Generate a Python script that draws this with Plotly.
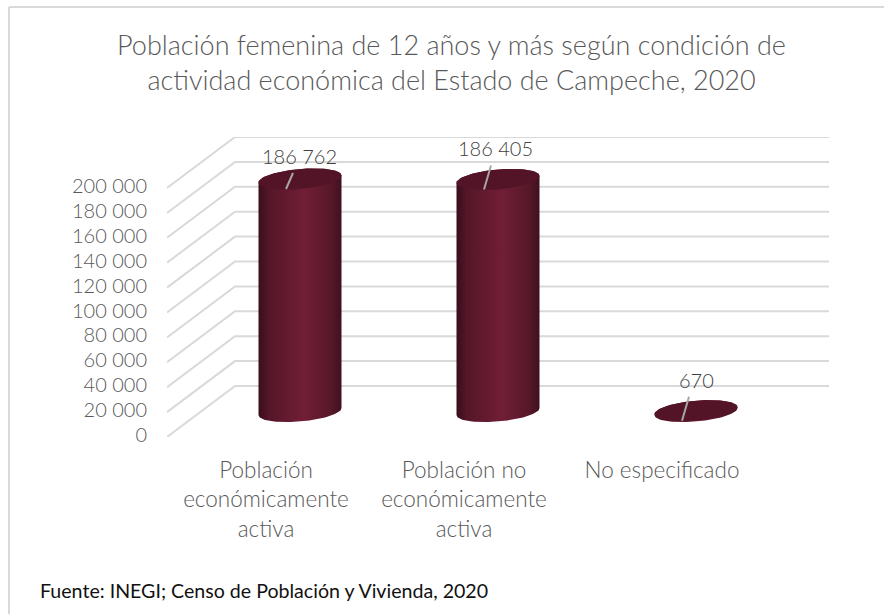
import numpy as np
import plotly.graph_objects as go

categories = ["Población<br>económicamente<br>activa", "Población no<br>económicamente<br>activa", "No especificado"]
values = [186762, 186405, 670]
y_ticks = [0, 20000, 40000, 60000, 80000, 100000, 120000, 140000, 160000, 180000, 200000]
y_tick_labels = ["0", "20 000", "40 000", "60 000", "80 000", "100 000", "120 000", "140 000", "160 000", "180 000", "200 000"]

TITLE = "Población femenina de 12 años y más según condición de<br>actividad económica del Estado de Campeche, 2020"
SOURCE = "Fuente: INEGI; Censo de Población y Vivienda, 2020"

W, H = 884, 614
M_L, M_R, M_T, M_B = 167, 55, 137, 177
FONT = "Lato"
GREY = "#595959"

# one pixel in axis units, the plot is a flat projection of the 3d box
PX_X = 1 / 198
PX_Y = 200000 / 249
DEPTH_X = 68 * PX_X
DEPTH_Y = 51 * PX_Y
x_range = [-0.5, 2.5 + DEPTH_X]
y_range = [0, 200000 + DEPTH_Y]

# label and leader line offsets in pixels, per bar
label_dx = [-0.5, -2.5, 0]
label_dy = [23, 31, 31]
leader_len = [16, 24, 24]

body_scale = [[0, "#380e1b"], [0.12, "#541628"], [0.55, "#711e36"], [0.88, "#561729"], [1, "#3f1020"]]
cap_color = "#541428"


def ellipse(cx, cy, t):
    x = cx + 41.5 * PX_X * np.cos(t)
    y = cy + (3.5 * np.cos(t) + 10 * np.sin(t)) * PX_Y
    return x, y


def px_x(p):
    return (p - M_L) / (W - M_L - M_R)


def px_y(p):
    return (H - M_B - p) / (H - M_T - M_B)


fig = go.Figure()

# wall and side gridlines
grid_x, grid_y = [], []
for v in y_ticks:
    grid_x += [x_range[0], x_range[0] + DEPTH_X, x_range[1], None]
    grid_y += [v, v + DEPTH_Y, v + DEPTH_Y, None]
fig.add_trace(go.Scatter(x=grid_x, y=grid_y, mode="lines", line=dict(color="#d9d9d9", width=2),
                         hoverinfo="skip", cliponaxis=False))

annotations = []
for i, v in enumerate(values):
    cx = i + DEPTH_X / 2
    base = DEPTH_Y / 2
    top = v + DEPTH_Y / 2

    # cylinder side
    bx, by = ellipse(cx, base, np.linspace(np.pi, 2 * np.pi, 50))
    tx, ty = ellipse(cx, top, np.linspace(0, np.pi, 50))
    fig.add_trace(go.Scatter(x=np.r_[bx, tx], y=np.r_[by, ty], mode="lines", fill="toself",
                             line=dict(width=0, color=cap_color),
                             fillgradient=dict(type="horizontal", colorscale=body_scale),
                             hoverinfo="skip", cliponaxis=False))

    # top of the cylinder
    ex, ey = ellipse(cx, top, np.linspace(0, 2 * np.pi, 100))
    fig.add_trace(go.Scatter(x=ex, y=ey, mode="lines", fill="toself", fillcolor=cap_color,
                             line=dict(width=0, color=cap_color),
                             name=categories[i].replace("<br>", " "), text=[f"{v:,}".replace(",", " ")] * 100,
                             hoverinfo="name+text", cliponaxis=False))

    # leader line
    end_x = cx - 14 * PX_X
    end_y = top - 10 * PX_Y
    fig.add_trace(go.Scatter(x=[end_x, end_x + 7 * PX_X], y=[end_y, end_y + leader_len[i] * PX_Y], mode="lines",
                             line=dict(color="#a6a6a6", width=2), hoverinfo="skip", cliponaxis=False))

    annotations.append(dict(x=cx + label_dx[i] * PX_X, y=top + label_dy[i] * PX_Y, xref="x", yref="y",
                            text=f"{v:,}".replace(",", " "), showarrow=False, xanchor="center", yanchor="middle",
                            font=dict(family=FONT, size=20, weight=300, color="#404040")))

annotations.append(dict(x=px_x(38), y=px_y(590), xref="paper", yref="paper", text=SOURCE, showarrow=False,
                        xanchor="left", yanchor="middle", font=dict(family=FONT, size=19.6, color="#111111")))

# chart frame, only top and left are visible
frame = dict(type="line", xref="paper", yref="paper", line=dict(color="#d9d9d9", width=2), layer="below")
shapes = [
    dict(frame, x0=px_x(9), x1=px_x(W), y0=px_y(7), y1=px_y(7)),
    dict(frame, x0=px_x(9), x1=px_x(9), y0=px_y(7), y1=px_y(H)),
]

fig.update_layout(
    width=W,
    height=H,
    margin=dict(l=M_L, r=M_R, t=M_T, b=M_B, autoexpand=False),
    paper_bgcolor="white",
    plot_bgcolor="white",
    showlegend=False,
    title=dict(text=TITLE, x=451.5 / W, xref="container", xanchor="center", y=1 - 54.5 / H, yref="container",
               yanchor="middle", font=dict(family=FONT, size=27, weight=300, color=GREY)),
    xaxis=dict(range=x_range, tickmode="array", tickvals=[0, 1, 2], ticktext=categories, showgrid=False,
               zeroline=False, showline=False, ticks="outside", ticklen=13, tickcolor="rgba(0,0,0,0)",
               tickfont=dict(family=FONT, size=22.5, weight=300, color=GREY)),
    yaxis=dict(range=y_range, tickmode="array", tickvals=y_ticks, ticktext=y_tick_labels, showgrid=False,
               zeroline=False, showline=False, ticks="outside", ticklen=15, tickcolor="rgba(0,0,0,0)",
               ticklabelshift=-2, tickfont=dict(family=FONT, size=20, weight=300, color=GREY)),
    annotations=annotations,
    shapes=shapes,
)

fig.write_html("out.html", config=dict(displayModeBar=False), post_script="document.body.style.margin='0';")
